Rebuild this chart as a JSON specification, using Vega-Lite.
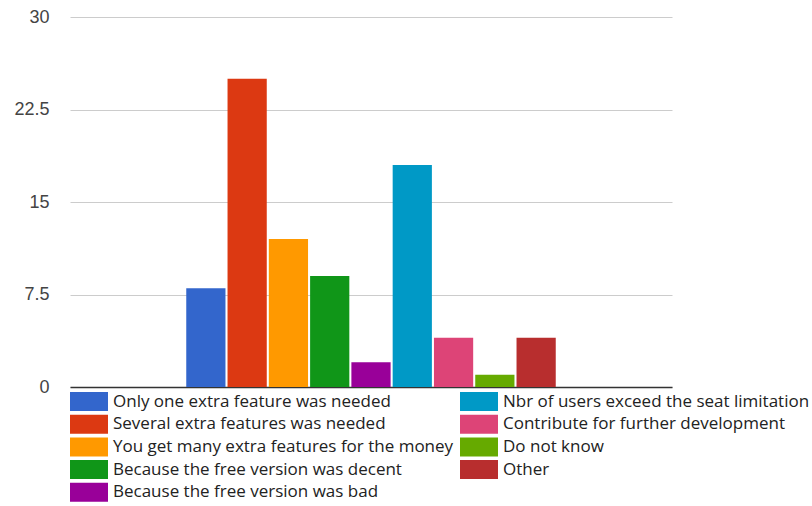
{
  "$schema": "https://vega.github.io/schema/vega-lite/v6.json",
  "width": 602,
  "height": 370,
  "autosize": {"type": "none"},
  "padding": {"left": 70, "top": 17, "right": 140, "bottom": 119},
  "background": "white",
  "config": {"view": {"stroke": null}},
  "data": {
    "values": [
      {"question": "Why paid", "reason": "Only one extra feature was needed", "count": 8},
      {"question": "Why paid", "reason": "Several extra features was needed", "count": 25},
      {"question": "Why paid", "reason": "You get many extra features for the money", "count": 12},
      {"question": "Why paid", "reason": "Because the free version was decent", "count": 9},
      {"question": "Why paid", "reason": "Because the free version was bad", "count": 2},
      {"question": "Why paid", "reason": "Nbr of users exceed the seat limitation", "count": 18},
      {"question": "Why paid", "reason": "Contribute for further development", "count": 4},
      {"question": "Why paid", "reason": "Do not know", "count": 1},
      {"question": "Why paid", "reason": "Other", "count": 4}
    ]
  },
  "mark": {"type": "bar"},
  "encoding": {
    "x": {
      "field": "question",
      "type": "nominal",
      "scale": {"paddingInner": 0, "paddingOuter": 0.311},
      "axis": {"title": null, "labels": false, "ticks": false, "grid": false, "domainColor": "#333", "domainWidth": 1.5}
    },
    "xOffset": {
      "field": "reason",
      "type": "nominal",
      "scale": {
        "domain": [
          "Only one extra feature was needed",
          "Several extra features was needed",
          "You get many extra features for the money",
          "Because the free version was decent",
          "Because the free version was bad",
          "Nbr of users exceed the seat limitation",
          "Contribute for further development",
          "Do not know",
          "Other"
        ],
        "paddingInner": 0.05,
        "paddingOuter": 0.02
      }
    },
    "y": {
      "field": "count",
      "type": "quantitative",
      "scale": {"domain": [0, 30], "nice": false},
      "axis": {
        "title": null,
        "values": [0, 7.5, 15, 22.5, 30],
        "format": ".1~f",
        "domain": false,
        "ticks": false,
        "gridColor": "#cccccc",
        "labelFontSize": 18,
        "labelColor": "#444444",
        "labelPadding": 21,
        "labelFont": "Liberation Sans"
      }
    },
    "color": {
      "field": "reason",
      "type": "nominal",
      "scale": {
        "domain": [
          "Only one extra feature was needed",
          "Several extra features was needed",
          "You get many extra features for the money",
          "Because the free version was decent",
          "Because the free version was bad",
          "Nbr of users exceed the seat limitation",
          "Contribute for further development",
          "Do not know",
          "Other"
        ],
        "range": ["#3366cc", "#dc3912", "#ff9900", "#109618", "#990099", "#0099c6", "#dd4477", "#66aa00", "#b82e2e"]
      },
      "legend": {
        "title": null,
        "orient": "none",
        "legendX": 0,
        "legendY": 375,
        "columns": 2,
        "padding": 0,
        "symbolType": "M-1,-1H3V1H-1Z",
        "symbolSize": 361,
        "symbolStrokeWidth": 0,
        "symbolOpacity": 1,
        "labelFontSize": 17,
        "labelFont": "Open Sans",
        "labelColor": "#222222",
        "labelOffset": 24,
        "labelLimit": 400,
        "rowPadding": 3.7,
        "columnPadding": 6
      }
    }
  }
}
